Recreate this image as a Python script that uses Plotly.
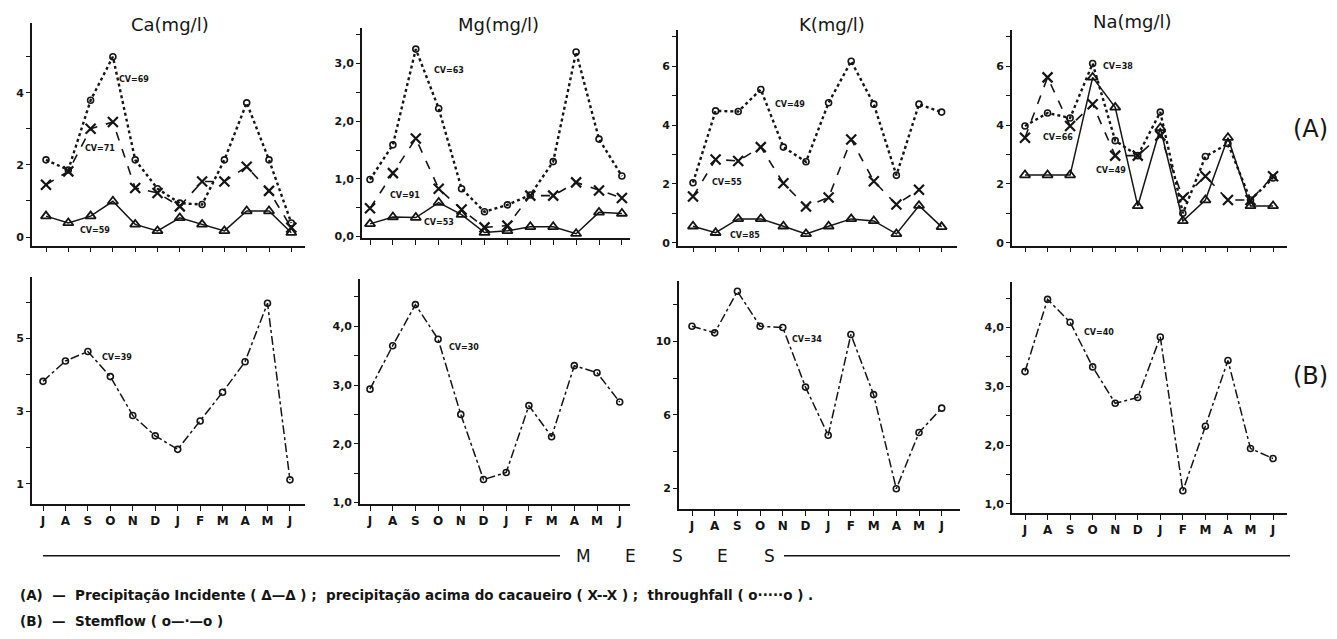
import plotly.graph_objects as go

W, H = 1337, 639

months = ["J", "A", "S", "O", "N", "D", "J", "F", "M", "A", "M", "J"]
xi = list(range(12))

# (A) Precipitação incidente (triangles), acima do cacaueiro (X), throughfall (circles)
ca_incid = [0.58, 0.39, 0.58, 0.99, 0.35, 0.17, 0.53, 0.35, 0.17, 0.72, 0.72, 0.12]
ca_acima = [1.45, 1.82, 3.0, 3.19, 1.36, 1.22, 0.85, 1.54, 1.54, 1.95, 1.28, 0.26]
ca_through = [2.14, 1.86, 3.79, 5.0, 2.14, 1.34, 0.94, 0.9, 2.14, 3.72, 2.14, 0.39]

mg_incid = [0.22, 0.34, 0.33, 0.59, 0.38, 0.07, 0.1, 0.17, 0.17, 0.05, 0.42, 0.4]
mg_acima = [0.49, 1.1, 1.7, 0.83, 0.47, 0.16, 0.19, 0.71, 0.71, 0.94, 0.8, 0.67]
mg_through = [0.99, 1.59, 3.25, 2.22, 0.83, 0.43, 0.55, 0.72, 1.3, 3.2, 1.69, 1.05]

k_incid = [0.56, 0.34, 0.81, 0.81, 0.56, 0.3, 0.56, 0.81, 0.74, 0.3, 1.26, 0.54]
k_acima = [1.57, 2.83, 2.78, 3.25, 2.02, 1.23, 1.54, 3.51, 2.09, 1.3, 1.8, None]
k_through = [2.04, 4.48, 4.46, 5.21, 3.25, 2.75, 4.76, 6.17, 4.71, 2.29, 4.71, 4.44]

na_incid = [2.3, 2.3, 2.3, 5.62, 4.6, 1.25, 3.9, 0.74, 1.45, 3.57, 1.25, 1.25]
na_acima = [3.57, 5.62, 3.97, 4.71, 2.96, 2.96, 3.64, 1.52, 2.26, 1.45, 1.45, 2.26]
na_through = [3.97, 4.41, 4.24, 6.09, 3.47, 2.96, 4.44, 1.0, 2.93, 3.37, 1.45, 2.2]

# (B) Stemflow
ca_stem = [3.82, 4.38, 4.64, 3.95, 2.88, 2.32, 1.95, 2.73, 3.52, 4.36, 5.97, 1.11]
mg_stem = [2.93, 3.67, 4.37, 3.78, 2.5, 1.39, 1.51, 2.65, 2.12, 3.33, 3.21, 2.71]
k_stem = [10.83, 10.47, 12.74, 10.83, 10.76, 7.51, 4.88, 10.38, 7.1, 1.96, 5.03, 6.36]
na_stem = [3.25, 4.48, 4.09, 3.33, 2.71, 2.81, 3.84, 1.22, 2.32, 3.44, 1.94, 1.77]

titles = ["Ca(mg/l)", "Mg(mg/l)", "K(mg/l)", "Na(mg/l)"]
cv_a = [("CV=69", "CV=71", "CV=59"), ("CV=63", "CV=91", "CV=53"),
        ("CV=49", "CV=55", "CV=85"), ("CV=38", "CV=66", "CV=49")]
cv_b = ["CV=39", "CV=30", "CV=34", "CV=40"]

ytick_a = [
    ([0, 1, 2, 3, 4, 5], ["0", "", "2", "", "4", ""]),
    ([0, 0.5, 1, 1.5, 2, 2.5, 3, 3.5], ["0,0", "", "1,0", "", "2,0", "", "3,0", ""]),
    ([0, 1, 2, 3, 4, 5, 6, 7], ["0", "", "2", "", "4", "", "6", ""]),
    ([0, 1, 2, 3, 4, 5, 6, 7], ["0", "", "2", "", "4", "", "6", ""]),
]
ytick_b = [
    ([1, 2, 3, 4, 5, 6], ["1", "", "3", "", "5", ""]),
    ([1, 1.5, 2, 2.5, 3, 3.5, 4, 4.5], ["1,0", "", "2,0", "", "3,0", "", "4,0", ""]),
    ([2, 4, 6, 8, 10, 12], ["2", "", "6", "", "10", ""]),
    ([1, 1.5, 2, 2.5, 3, 3.5, 4, 4.5], ["1,0", "", "2,0", "", "3,0", "", "4,0", ""]),
]

# layout geometry (pixels): axis left, axis right, first tick, tick step
xgeom = [(32, 305, 46, 22.3), (362, 630, 370, 22.9), (678, 957, 693, 22.6), (1012, 1287, 1025, 22.55)]
xgeom_b = [(32, 305, 43, 22.45), (360, 630, 370, 22.7), (679, 960, 692, 22.7), (1012, 1287, 1025, 22.55)]
# y: top px, bottom px, range
ygeom_a = [(23, 248, [-0.24, 5.94]), (28, 240, [-0.02, 3.62]), (30, 248, [-0.1, 7.24]), (30, 248, [-0.1, 7.24])]
ygeom_b = [(280, 509, [0.44, 6.68]), (282, 509, [0.97, 4.8]), (284, 514, [0.85, 13.28]), (285, 518, [0.84, 4.77])]

INK = "#151515"
FONT = "DejaVu Sans"

fig = go.Figure()
layout = {}

def add_axes(n, xg, yg, yt, xlabels):
    x0, x1, t0, dt = xg
    top, bot, yr = yg
    xr = [(x0 - t0) / dt, (x1 - t0) / dt]
    xname = "xaxis" if n == 1 else f"xaxis{n}"
    yname = "yaxis" if n == 1 else f"yaxis{n}"
    layout[xname] = dict(
        domain=[x0 / W, x1 / W], anchor=f"y{n if n > 1 else ''}", range=xr,
        showgrid=False, zeroline=False, showline=True, linecolor=INK, linewidth=1.6,
        ticks="outside", ticklen=5, tickwidth=1.4, tickcolor=INK,
        tickvals=xi, ticktext=months if xlabels else [""] * 12,
        tickfont=dict(family=FONT, size=12, color=INK, weight="bold"),
    )
    layout[yname] = dict(
        domain=[1 - bot / H, 1 - top / H], anchor=f"x{n if n > 1 else ''}", range=yr,
        showgrid=False, zeroline=False, showline=True, linecolor=INK, linewidth=1.6,
        ticks="outside", ticklen=4, tickwidth=1.4, tickcolor=INK,
        tickvals=yt[0], ticktext=yt[1],
        tickfont=dict(family=FONT, size=11, color=INK, weight="bold"),
    )

def trace(n, y, kind):
    xa = "x" if n == 1 else f"x{n}"
    ya = "y" if n == 1 else f"y{n}"
    if kind == "incid":
        line = dict(color=INK, width=1.5)
        marker = dict(symbol="triangle-up-open", size=9, color=INK, line=dict(width=1.8, color=INK))
    elif kind == "acima":
        line = dict(color=INK, width=1.6, dash="dash")
        marker = dict(symbol="x-thin", size=10, color=INK, line=dict(width=2.2, color=INK))
    elif kind == "through":
        line = dict(color=INK, width=2.4, dash="dot")
        marker = dict(symbol="circle-open", size=6, color=INK, line=dict(width=1.6, color=INK))
    else:
        line = dict(color=INK, width=1.5, dash="dashdot")
        marker = dict(symbol="circle-open", size=6, color=INK, line=dict(width=1.6, color=INK))
    fig.add_trace(go.Scatter(x=xi, y=y, mode="lines+markers", line=line, marker=marker,
                             xaxis=xa, yaxis=ya, showlegend=False, connectgaps=False,
                             hoverinfo="skip"))

series_a = [(ca_incid, ca_acima, ca_through), (mg_incid, mg_acima, mg_through),
            (k_incid, k_acima, k_through), (na_incid, na_acima, na_through)]
series_b = [ca_stem, mg_stem, k_stem, na_stem]

for i in range(4):
    n = i + 1
    add_axes(n, xgeom[i], ygeom_a[i], ytick_a[i], False)
    inc, aci, thr = series_a[i]
    trace(n, inc, "incid")
    trace(n, aci, "acima")
    trace(n, thr, "through")
for i in range(4):
    n = i + 5
    add_axes(n, xgeom_b[i], ygeom_b[i], ytick_b[i], True)
    trace(n, series_b[i], "stem")

ann = []
def txt(x, y, s, size, xanchor="center", weight="normal"):
    ann.append(dict(x=x / W, y=1 - y / H, xref="paper", yref="paper", text=s, showarrow=False,
                    xanchor=xanchor, yanchor="middle",
                    font=dict(family=FONT, size=size, color=INK, weight=weight)))

# panel titles
for (x, y), t in zip([(170, 25), (498, 25), (832, 25), (1132, 22)], titles):
    txt(x, y, t, 18)

# CV labels (A)
cv_pos_a = [[(117, 80), (83, 150), (78, 233)],
            [(432, 71), (388, 197), (422, 225)],
            [(773, 105), (710, 184), (728, 238)],
            [(1101, 67), (1041, 139), (1094, 172)]]
for i in range(4):
    for (x, y), s in zip(cv_pos_a[i], cv_a[i]):
        txt(x, y, s, 8, xanchor="left", weight="bold")
cv_pos_b = [(100, 361), (447, 351), (790, 343), (1082, 336)]
for (x, y), s in zip(cv_pos_b, cv_b):
    txt(x, y, s, 8, xanchor="left", weight="bold")

txt(1310, 130, "(A)", 24)
txt(1310, 380, "(B)", 24)

# MESES
for x, ch in zip([583, 630, 677, 722, 769], "MESES"):
    txt(x, 561, ch, 17)

txt(18, 601, "(A)  —  Precipitação Incidente ( Δ—Δ ) ;  precipitação acima do cacaueiro ( X--X ) ;  throughfall ( o·····o ) .", 13.5, xanchor="left", weight="bold")
txt(18, 627, "(B)  —  Stemflow ( o—·—o )", 13.5, xanchor="left", weight="bold")

shapes = [
    dict(type="line", xref="paper", yref="paper", x0=43 / W, x1=560 / W, y0=1 - 561 / H, y1=1 - 561 / H,
         line=dict(color=INK, width=1.5)),
    dict(type="line", xref="paper", yref="paper", x0=784 / W, x1=1290 / W, y0=1 - 561 / H, y1=1 - 561 / H,
         line=dict(color=INK, width=1.5)),
]

fig.update_layout(
    width=W, height=H, margin=dict(l=0, r=0, t=0, b=0),
    paper_bgcolor="white", plot_bgcolor="white",
    annotations=ann, shapes=shapes, showlegend=False,
    **layout,
)

fig.write_html("out.html", config={"displayModeBar": False},
               post_script="document.body.style.margin='0';document.body.style.overflow='hidden';")
